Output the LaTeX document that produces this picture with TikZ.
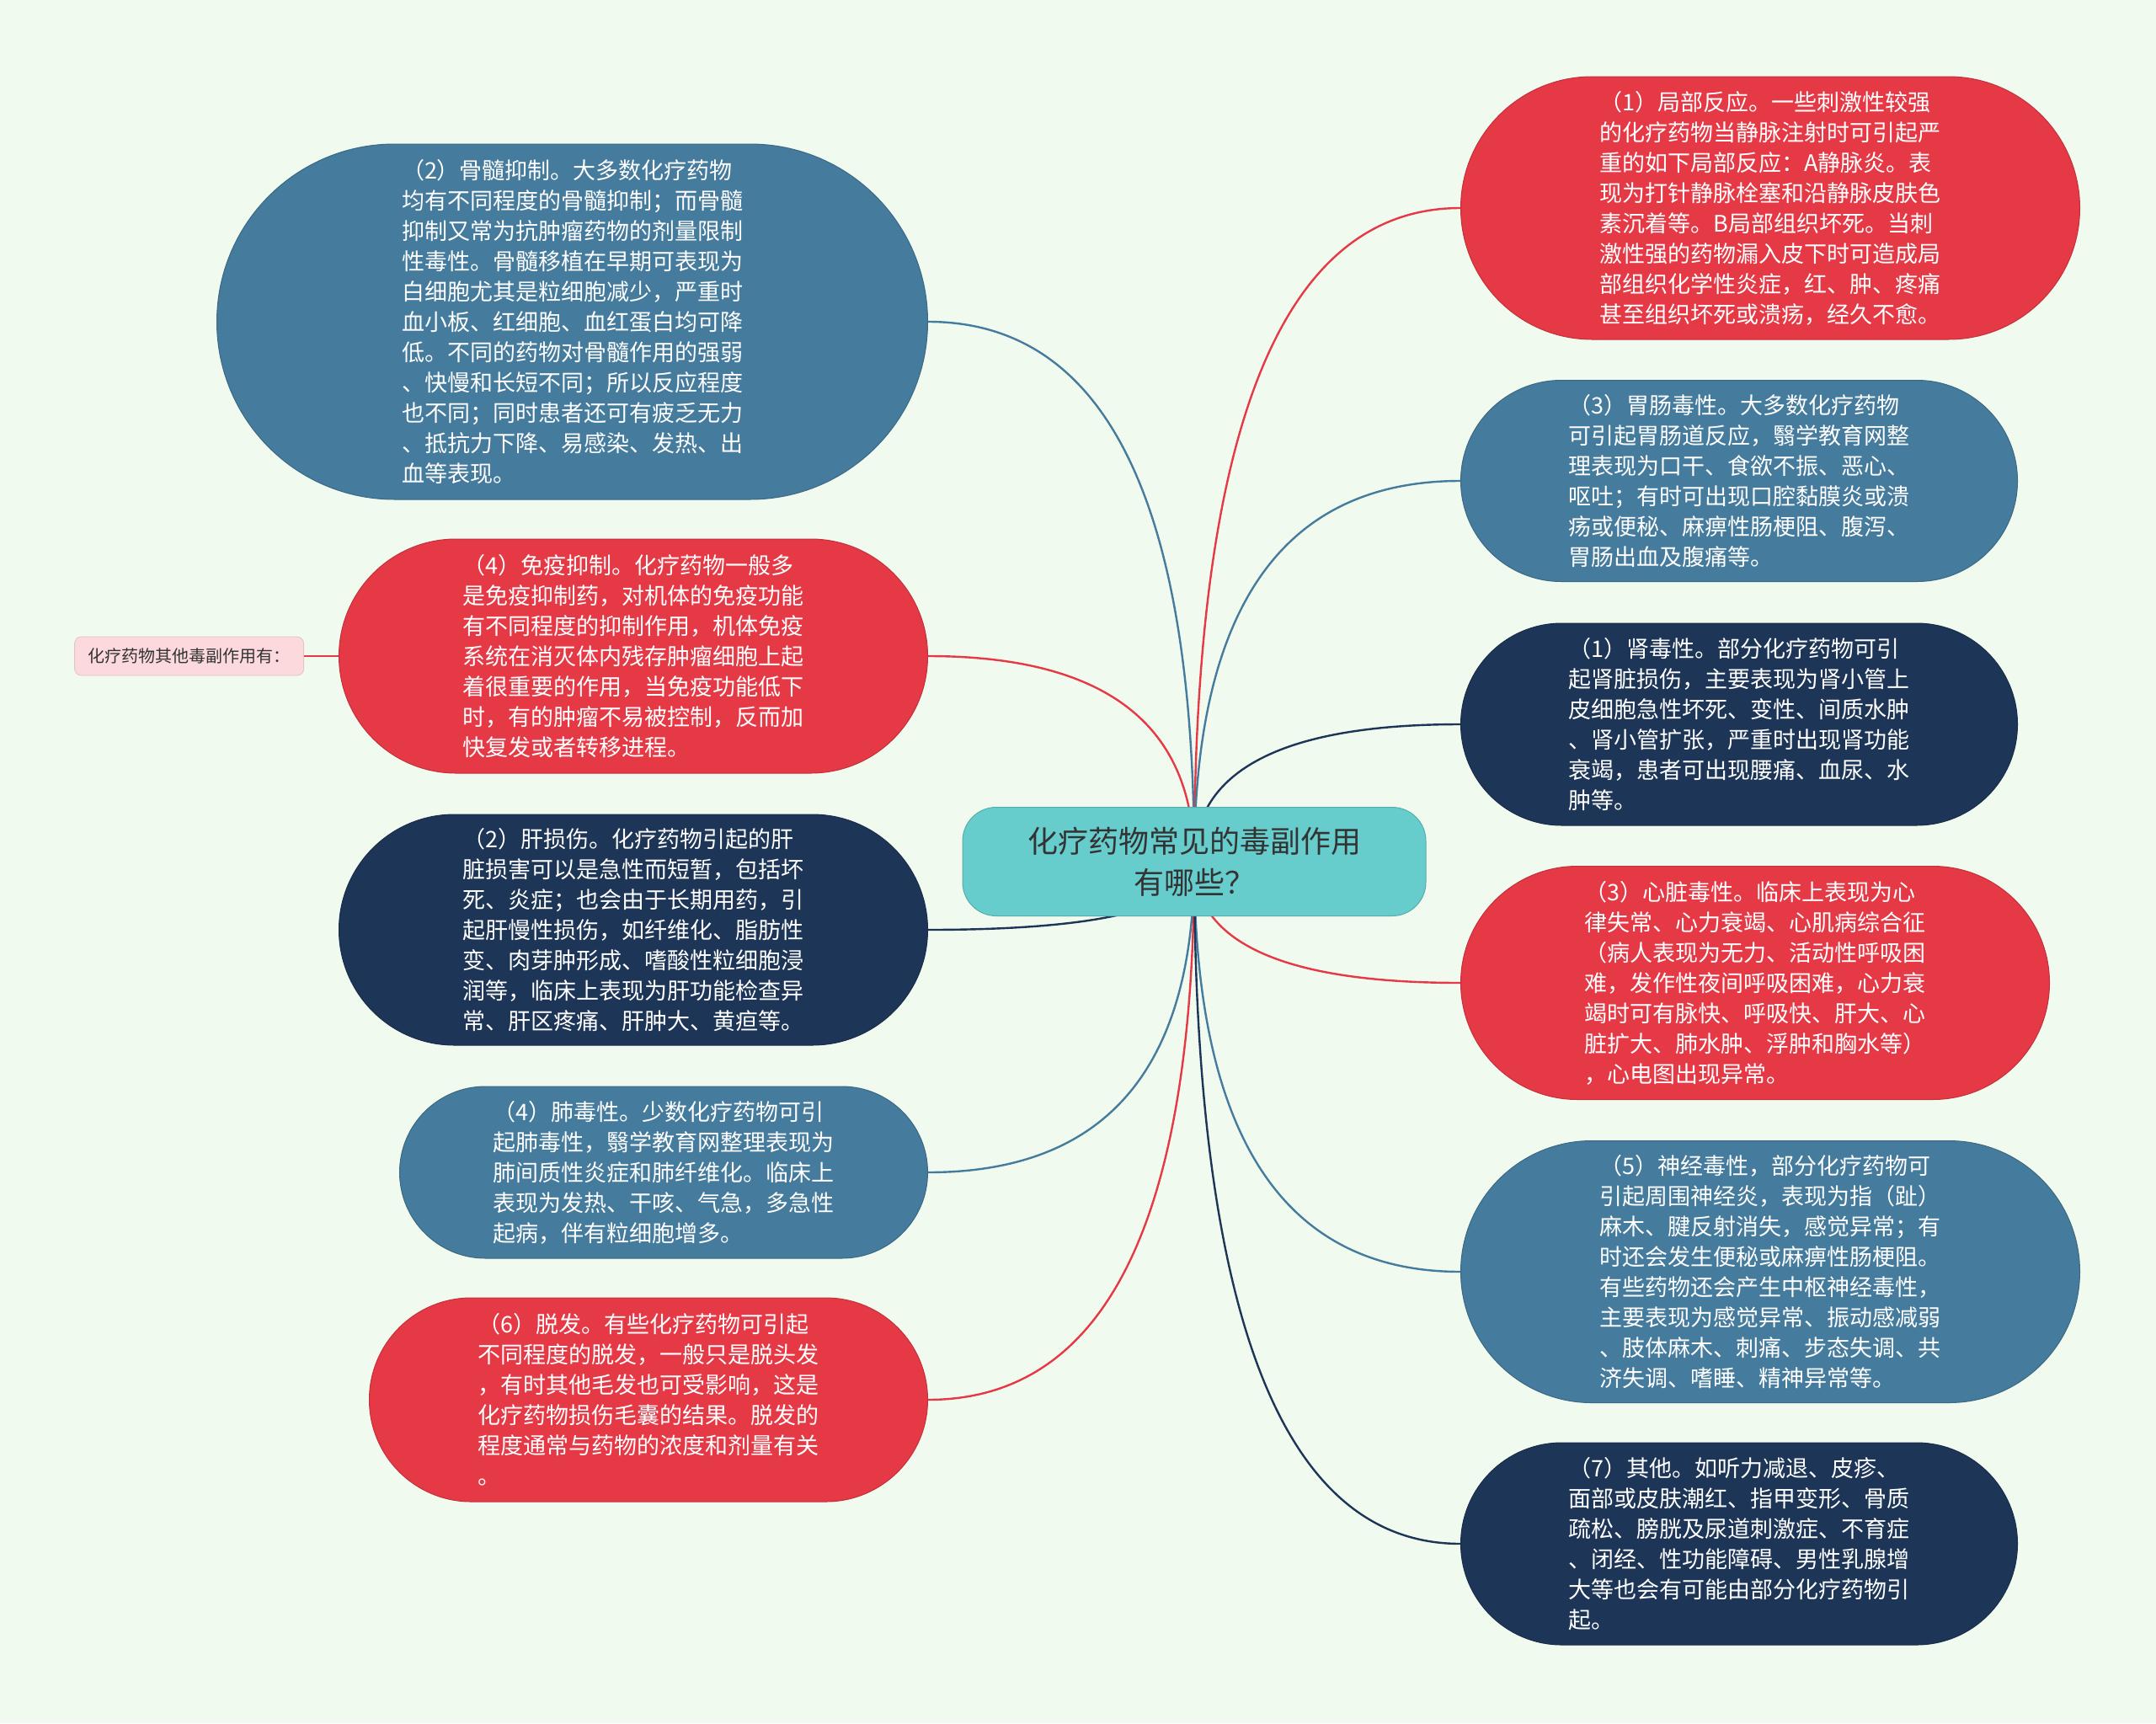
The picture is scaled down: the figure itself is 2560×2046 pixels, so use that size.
\documentclass[tikz,border=0pt]{standalone}
\usepackage{fontspec}
\setmainfont{Noto Sans CJK SC}
\usetikzlibrary{shapes.misc, positioning, calc, backgrounds}

\definecolor{paper}{HTML}{F1FAEE}
\definecolor{crimson}{HTML}{E63946}
\definecolor{steel}{HTML}{457B9D}
\definecolor{navy}{HTML}{1D3557}
\definecolor{hubteal}{HTML}{66CCCC}
\definecolor{blush}{HTML}{FBD9DC}
\definecolor{ink}{HTML}{333333}

\begin{document}
\begin{tikzpicture}[
    x=1pt, y=1pt,
    hub/.style={
        draw=hubteal!85!black,
        fill=hubteal,
        line width=1pt,
        rounded corners=40pt,
        minimum width=550pt,
        minimum height=129pt,
        align=center,
        text=ink,
        font=\fontsize{36}{49}\selectfont
    },
    leaf/.style={
        rounded rectangle,
        line width=1pt,
        inner sep=0pt,
        align=left,
        text=white,
        font=\fontsize{27}{36}\selectfont
    },
    note/.style={
        draw=blush!90!black,
        fill=blush,
        line width=0.8pt,
        rounded corners=8pt,
        minimum width=272pt,
        minimum height=46pt,
        inner sep=0pt,
        text=ink,
        font=\fontsize{20}{24}\selectfont
    },
    link/.style={
        line width=2.4pt
    },
    branch/.style={
        link,
        to path={.. controls ($(\tikztostart)!0.667!(\tikztostart |- \tikztotarget)$)
                 and ($(\tikztotarget)!0.667!(\tikztostart |- \tikztotarget)$) .. (\tikztotarget)}
    }
]

% --- CENTRAL TOPIC --------------------------------------------

\node[hub] (hub) at (1418,-1023) {化疗药物常见的毒副作用\\有哪些？};

% --- LEFT BRANCHES --------------------------------------------

\node[leaf, fill=steel, draw=steel!85!black, minimum width=844pt, minimum height=422pt,
      anchor=east] (marrow) at (1102,-382) {%
（2）骨髓抑制。大多数化疗药物\\
均有不同程度的骨髓抑制；而骨髓\\
抑制又常为抗肿瘤药物的剂量限制\\
性毒性。骨髓移植在早期可表现为\\
白细胞尤其是粒细胞减少，严重时\\
血小板、红细胞、血红蛋白均可降\\
低。不同的药物对骨髓作用的强弱\\
、快慢和长短不同；所以反应程度\\
也不同；同时患者还可有疲乏无力\\
、抵抗力下降、易感染、发热、出\\
血等表现。};

\node[leaf, fill=crimson, draw=crimson!85!black, minimum width=699pt, minimum height=278pt,
      anchor=east] (immune) at (1102,-779) {%
（4）免疫抑制。化疗药物一般多\\
是免疫抑制药，对机体的免疫功能\\
有不同程度的抑制作用，机体免疫\\
系统在消灭体内残存肿瘤细胞上起\\
着很重要的作用，当免疫功能低下\\
时，有的肿瘤不易被控制，反而加\\
快复发或者转移进程。};

\node[leaf, fill=navy, draw=navy!85!black, minimum width=699pt, minimum height=274pt,
      anchor=east] (liver) at (1102,-1104) {%
（2）肝损伤。化疗药物引起的肝\\
脏损害可以是急性而短暂，包括坏\\
死、炎症；也会由于长期用药，引\\
起肝慢性损伤，如纤维化、脂肪性\\
变、肉芽肿形成、嗜酸性粒细胞浸\\
润等，临床上表现为肝功能检查异\\
常、肝区疼痛、肝肿大、黄疸等。};

\node[leaf, fill=steel, draw=steel!85!black, minimum width=627pt, minimum height=204pt,
      anchor=east] (lung) at (1102,-1392) {%
（4）肺毒性。少数化疗药物可引\\
起肺毒性，翳学教育网整理表现为\\
肺间质性炎症和肺纤维化。临床上\\
表现为发热、干咳、气急，多急性\\
起病，伴有粒细胞增多。};

\node[leaf, fill=crimson, draw=crimson!85!black, minimum width=663pt, minimum height=242pt,
      anchor=east] (hair) at (1102,-1662) {%
（6）脱发。有些化疗药物可引起\\
不同程度的脱发，一般只是脱头发\\
，有时其他毛发也可受影响，这是\\
化疗药物损伤毛囊的结果。脱发的\\
程度通常与药物的浓度和剂量有关\\
。};

\node[note, left=41pt of immune] (others) {化疗药物其他毒副作用有：};

% --- RIGHT BRANCHES -------------------------------------------

\node[leaf, fill=crimson, draw=crimson!85!black, minimum width=735pt, minimum height=312pt,
      anchor=west] (local) at (1734,-247) {%
（1）局部反应。一些刺激性较强\\
的化疗药物当静脉注射时可引起严\\
重的如下局部反应：A静脉炎。表\\
现为打针静脉栓塞和沿静脉皮肤色\\
素沉着等。B局部组织坏死。当刺\\
激性强的药物漏入皮下时可造成局\\
部组织化学性炎症，红、肿、疼痛\\
甚至组织坏死或溃疡，经久不愈。};

\node[leaf, fill=steel, draw=steel!85!black, minimum width=661pt, minimum height=239pt,
      anchor=west] (gut) at (1734,-571) {%
（3）胃肠毒性。大多数化疗药物\\
可引起胃肠道反应，翳学教育网整\\
理表现为口干、食欲不振、恶心、\\
呕吐；有时可出现口腔黏膜炎或溃\\
疡或便秘、麻痹性肠梗阻、腹泻、\\
胃肠出血及腹痛等。};

\node[leaf, fill=navy, draw=navy!85!black, minimum width=661pt, minimum height=240pt,
      anchor=west] (kidney) at (1734,-860) {%
（1）肾毒性。部分化疗药物可引\\
起肾脏损伤，主要表现为肾小管上\\
皮细胞急性坏死、变性、间质水肿\\
、肾小管扩张，严重时出现肾功能\\
衰竭，患者可出现腰痛、血尿、水\\
肿等。};

\node[leaf, fill=crimson, draw=crimson!85!black, minimum width=699pt, minimum height=277pt,
      anchor=west] (heart) at (1734,-1167) {%
（3）心脏毒性。临床上表现为心\\
律失常、心力衰竭、心肌病综合征\\
（病人表现为无力、活动性呼吸困\\
难，发作性夜间呼吸困难，心力衰\\
竭时可有脉快、呼吸快、肝大、心\\
脏扩大、肺水肿、浮肿和胸水等）\\
，心电图出现异常。};

\node[leaf, fill=steel, draw=steel!85!black, minimum width=735pt, minimum height=311pt,
      anchor=west] (nerve) at (1734,-1510) {%
（5）神经毒性，部分化疗药物可\\
引起周围神经炎，表现为指（趾）\\
麻木、腱反射消失，感觉异常；有\\
时还会发生便秘或麻痹性肠梗阻。\\
有些药物还会产生中枢神经毒性，\\
主要表现为感觉异常、振动感减弱\\
、肢体麻木、刺痛、步态失调、共\\
济失调、嗜睡、精神异常等。};

\node[leaf, fill=navy, draw=navy!85!black, minimum width=661pt, minimum height=240pt,
      anchor=west] (misc) at (1734,-1833) {%
（7）其他。如听力减退、皮疹、\\
面部或皮肤潮红、指甲变形、骨质\\
疏松、膀胱及尿道刺激症、不育症\\
、闭经、性功能障碍、男性乳腺增\\
大等也会有可能由部分化疗药物引\\
起。};

\draw[link, crimson] (others.east) -- (immune.west);

% --- CONNECTORS (BEHIND THE NODES) ----------------------------

\begin{scope}[on background layer]
    \fill[paper] (0,0) rectangle (2560,-2046);

    \draw[branch, steel]   (hub.center) to (marrow.east);
    \draw[branch, crimson] (hub.center) to (immune.east);
    \draw[branch, navy]    (hub.center) to (liver.east);
    \draw[branch, steel]   (hub.center) to (lung.east);
    \draw[branch, crimson] (hub.center) to (hair.east);

    \draw[branch, crimson] (hub.center) to (local.west);
    \draw[branch, steel]   (hub.center) to (gut.west);
    \draw[branch, navy]    (hub.center) to (kidney.west);
    \draw[branch, crimson] (hub.center) to (heart.west);
    \draw[branch, steel]   (hub.center) to (nerve.west);
    \draw[branch, navy]    (hub.center) to (misc.west);
\end{scope}

\end{tikzpicture}
\end{document}
